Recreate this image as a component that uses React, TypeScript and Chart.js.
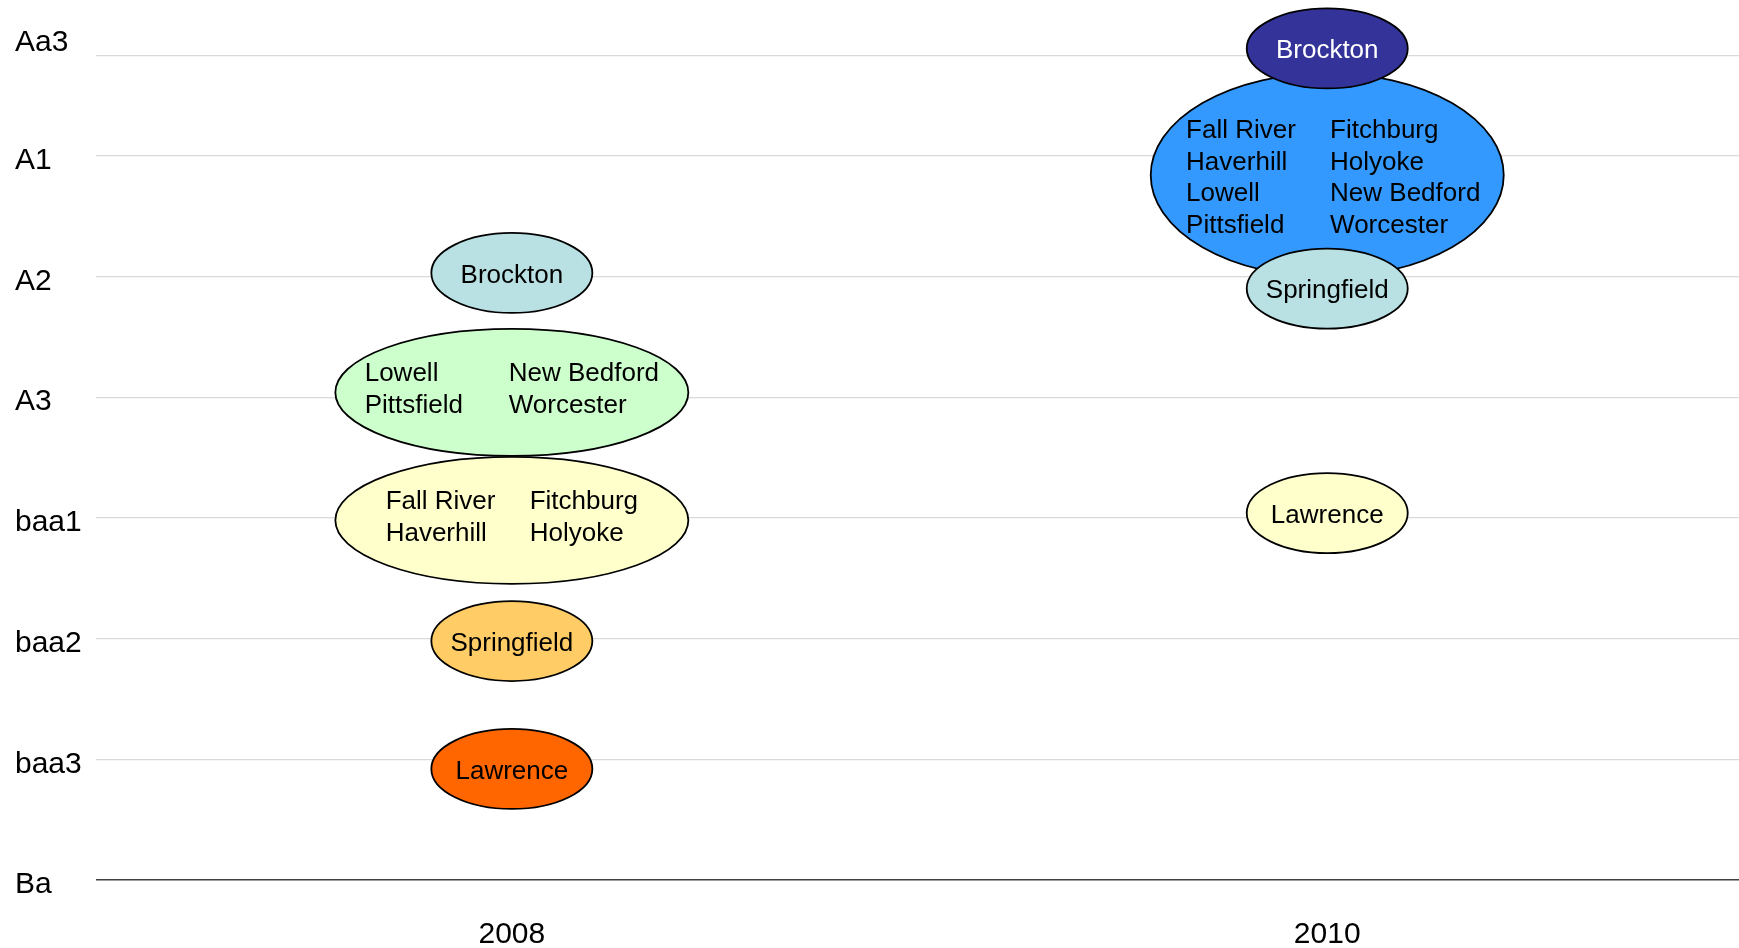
import React, { useEffect, useRef } from "react";
import { Chart, registerables } from "chart.js";

Chart.register(...registerables);

const FONT = '"Liberation Sans", Arial, Helvetica, sans-serif';

const years = [2008, 2010];
const ratingLabels = ["Ba", "baa3", "baa2", "baa1", "A3", "A2", "A1", "Aa3"];
const ratingValues = [0, 1, 2, 3, 4, 5, 6, 6.83];

const groups2008 = [
  ["Lowell", "New Bedford", "Pittsfield", "Worcester"],
  ["Fall River", "Fitchburg", "Haverhill", "Holyoke"],
  ["Brockton"],
  ["Springfield"],
  ["Lawrence"],
];
const values2008 = [4.04, 2.98, 5.03, 1.98, 0.92];
const fills2008 = ["#CCFFCC", "#FFFFCC", "#B9E0E3", "#FFCC66", "#FF6600"];
const textColors2008 = ["#000000", "#000000", "#000000", "#000000", "#000000"];

const groups2010 = [
  ["Fall River", "Fitchburg", "Haverhill", "Holyoke", "Lowell", "New Bedford", "Pittsfield", "Worcester"],
  ["Brockton"],
  ["Springfield"],
  ["Lawrence"],
];
const values2010 = [5.84, 6.89, 4.9, 3.04];
const fills2010 = ["#3399FF", "#333399", "#B9E0E3", "#FFFFCC"];
const textColors2010 = ["#000000", "#FFFFFF", "#000000", "#000000"];

const ellipsePlugin = {
  id: "ratingEllipses",
  afterDatasetsDraw(chart: any) {
    const ctx = chart.ctx;
    chart.data.datasets.forEach((ds: any, di: number) => {
      const meta = chart.getDatasetMeta(di);
      meta.data.forEach((pt: any, i: number) => {
        const names: string[] = ds.groups[i];
        const cols = names.length > 1 ? 2 : 1;
        const rows = Math.ceil(names.length / cols);
        const w = cols === 1 ? 161 : 353;
        const h = rows === 1 ? 80 : 50 + 38.5 * rows;
        ctx.save();
        ctx.beginPath();
        ctx.ellipse(pt.x, pt.y, w / 2, h / 2, 0, 0, Math.PI * 2);
        ctx.fillStyle = ds.fills[i];
        ctx.fill();
        ctx.lineWidth = 1.8;
        ctx.strokeStyle = "#000000";
        ctx.stroke();
        ctx.font = `26px ${FONT}`;
        ctx.fillStyle = ds.textColors[i];
        ctx.textBaseline = "middle";
        if (cols === 1) {
          ctx.textAlign = "center";
          ctx.fillText(names[0], pt.x, pt.y + 2.5);
        } else {
          const colStep = 144;
          const right = names.filter((_, k) => k % 2 === 1);
          const rw = Math.max(...right.map((n) => ctx.measureText(n).width));
          const dx = rows > 2 ? 6 : 0;
          const x0 = pt.x - (colStep + rw) / 2 + dx;
          const lh = 31.5;
          const off = rows === 2 ? -4.5 : 1;
          ctx.textAlign = "left";
          names.forEach((n, k) => {
            const r = Math.floor(k / 2);
            const c = k % 2;
            ctx.fillText(n, x0 + c * colStep, pt.y + off + 2 + (r - (rows - 1) / 2) * lh);
          });
        }
        ctx.restore();
      });
    });
  },
};

export default function App() {
  const ref = useRef<HTMLCanvasElement | null>(null);
  useEffect(() => {
    if (!ref.current) return;
    const topValue = Math.max(...ratingValues);
    const chart = new Chart(ref.current, {
      type: "scatter",
      data: {
        datasets: [
          {
            label: "2008",
            data: values2008.map((v) => ({ x: years[0], y: v })),
            groups: groups2008,
            fills: fills2008,
            textColors: textColors2008,
            pointRadius: 0,
            pointHoverRadius: 0,
            clip: false,
          } as any,
          {
            label: "2010",
            data: values2010.map((v) => ({ x: years[1], y: v })),
            groups: groups2010,
            fills: fills2010,
            textColors: textColors2010,
            pointRadius: 0,
            pointHoverRadius: 0,
            clip: false,
          } as any,
        ],
      },
      options: {
        animation: false,
        responsive: false,
        devicePixelRatio: 1,
        events: [],
        layout: { padding: { top: 11, left: 15, right: 0, bottom: 0 } },
        plugins: { legend: { display: false }, tooltip: { enabled: false } },
        scales: {
          x: {
            type: "linear",
            min: 2006.98,
            max: 2011.01,
            afterBuildTicks: (s: any) => {
              s.ticks = years.map((v) => ({ value: v }));
            },
            grid: { display: false, drawTicks: false },
            border: { display: false },
            ticks: {
              autoSkip: false,
              font: { size: 30, family: FONT },
              color: "#000000",
              padding: 37,
              callback: (v: any) => String(v),
            },
            afterFit: (s: any) => {
              s.height = 68;
              s.paddingLeft = 0;
              s.paddingRight = 0;
            },
          },
          y: {
            type: "linear",
            min: 0,
            max: 7.2,
            afterBuildTicks: (s: any) => {
              s.ticks = ratingValues.map((v) => ({ value: v }));
            },
            afterFit: (s: any) => {
              s.width = 81;
              s.paddingTop = 0;
              s.paddingBottom = 0;
            },
            ticks: {
              autoSkip: false,
              crossAlign: "far",
              labelOffset: 5,
              font: { size: 30, family: FONT },
              color: "#000000",
              callback: (v: any) => {
                const idx = ratingValues.indexOf(Number(v));
                const lab = idx >= 0 ? ratingLabels[idx] : "";
                return Number(v) === topValue ? [lab, ""] : lab;
              },
            },
            grid: {
              drawTicks: false,
              color: (c: any) => (c.tick && c.tick.value === 0 ? "#404040" : "#D9D9D9"),
              lineWidth: (c: any) => (c.tick && c.tick.value === 0 ? 1.5 : 1.2),
            },
            border: { display: false },
          },
        },
      } as any,
      plugins: [ellipsePlugin],
    });
    return () => chart.destroy();
  }, []);
  return (
    <div style={{ position: "fixed", left: 0, top: 0, width: 1739, height: 948, background: "#ffffff" }}>
      <canvas ref={ref} width={1739} height={948} style={{ display: "block" }} />
    </div>
  );
}
